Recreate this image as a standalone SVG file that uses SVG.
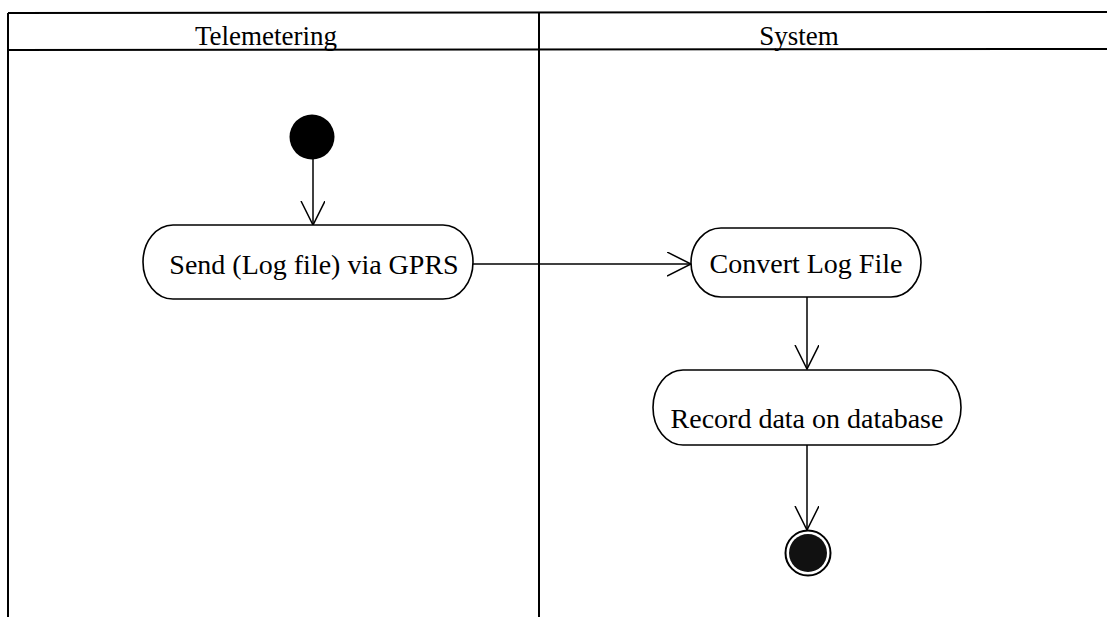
<svg xmlns="http://www.w3.org/2000/svg" width="1107" height="617" viewBox="0 0 1107 617">
<defs>
<style>
.lane{stroke:#000;stroke-width:2;fill:none}
.hdr{font-family:"Liberation Serif","Times New Roman",serif;font-size:27px;fill:#000;text-anchor:middle}
.act{fill:#fff;stroke:#000;stroke-width:1.6}
.lbl{font-family:"Liberation Serif","Times New Roman",serif;font-size:28px;fill:#000;text-anchor:middle}
.edge{stroke:#000;stroke-width:1.5;fill:none}
</style>
<marker id="open" markerWidth="28" markerHeight="28" refX="24" refY="12" orient="auto" markerUnits="userSpaceOnUse">
<path d="M0,0 L24,12 L0,24" fill="none" stroke="#000" stroke-width="1.5"/>
</marker>
</defs>
<rect width="1107" height="617" fill="#fff"/>
<g id="swimlanes">
<line class="lane" x1="8" y1="13" x2="1107" y2="12"/>
<line class="lane" x1="8" y1="50" x2="1107" y2="49"/>
<line class="lane" x1="8" y1="13" x2="8" y2="617"/>
<line class="lane" x1="539" y1="13" x2="539" y2="617"/>
<text class="hdr" x="266" y="45">Telemetering</text>
<text class="hdr" x="799" y="45">System</text>
</g>
<g id="connectors">
<line class="edge" x1="313" y1="159" x2="313" y2="225" marker-end="url(#open)"/>
<line class="edge" x1="473" y1="264" x2="691" y2="264" marker-end="url(#open)"/>
<line class="edge" x1="807" y1="297" x2="807" y2="369" marker-end="url(#open)"/>
<line class="edge" x1="807" y1="445" x2="807" y2="530" marker-end="url(#open)"/>
</g>
<g id="start">
<circle cx="312" cy="137" r="22.5" fill="#000"/>
</g>
<g id="send">
<rect class="act" x="143" y="225" width="330" height="74" rx="30" ry="37"/>
<text class="lbl" x="314" y="274">Send (Log file) via GPRS</text>
</g>
<g id="convert">
<rect class="act" x="691" y="228" width="230" height="69" rx="30" ry="34.5"/>
<text class="lbl" x="806" y="273">Convert Log File</text>
</g>
<g id="record">
<rect class="act" x="653" y="370" width="308" height="75" rx="30" ry="37.5"/>
<text class="lbl" x="807" y="428">Record data on database</text>
</g>
<g id="end">
<circle cx="808" cy="553" r="22.5" fill="#fff" stroke="#000" stroke-width="2"/>
<circle cx="808" cy="553" r="19" fill="#111"/>
</g>
</svg>
